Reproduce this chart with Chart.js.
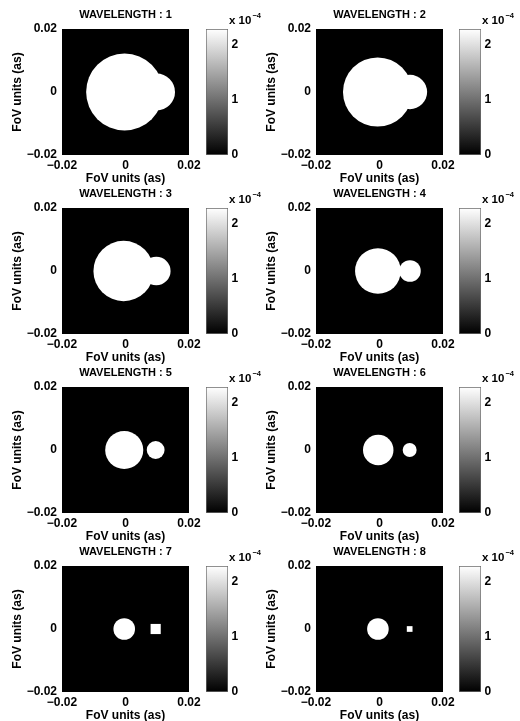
<!DOCTYPE html>
<html>
<head>
<meta charset="utf-8">
<script src="https://cdn.jsdelivr.net/npm/chart.js@4.4.1/dist/chart.umd.min.js"></script>
<style>
  html, body { margin: 0; padding: 0; background: #fff; }
  #fig { position: relative; width: 520px; height: 721px; overflow: hidden; }
  #fig canvas { position: absolute; }
</style>
</head>
<body>
<div id="fig"></div>
<script>
// Two uniform disks imaged at 8 wavelengths
// FoV in arcsec, intensity in units of 1e-4

const wavelengths = [1, 2, 3, 4, 5, 6, 7, 8];
const fovTicks = [-0.02, 0, 0.02];

// primary (large) disk
const primaryX = [-0.0003, -0.0006, -0.0006, -0.0005, -0.0004, -0.0004, -0.0004, -0.0005];
const primaryY = [0, 0, 0, 0, 0, 0, 0, 0];
const primaryRadius = [0.0121, 0.0109, 0.0095, 0.0072, 0.0060, 0.0048, 0.0034, 0.0034];

// companion (small) disk
const companionX = [0.0098, 0.0096, 0.0097, 0.0096, 0.0095, 0.0095, 0.0095, 0.0095];
const companionY = [0, 0, 0, 0, 0, 0, 0, 0];
const companionRadius = [0.0058, 0.0054, 0.0045, 0.0034, 0.0028, 0.0022, 0.0016, 0.0009];

// colour bar (x 1e-4)
const colorbarMax = 2.29;
const colorbarTicks = [0, 1, 2];

// page layout
const colLeft = [62, 316];
const cbLeft = [206, 459];
const rowTop = [29, 208, 387, 566];
const AXIS_W = 127, AXIS_H = 126, CB_W = 22;
const X_AXIS_H = 31;

const FONT = "'Liberation Sans', Arial, Helvetica, sans-serif";
Chart.defaults.font.family = FONT;
Chart.defaults.font.weight = 'bold';
Chart.defaults.font.size = 12;
Chart.defaults.color = '#000';

const fig = document.getElementById('fig');

function makeCanvas(left, top, w, h) {
    const c = document.createElement('canvas');
    c.width = w;
    c.height = h;
    c.style.left = left + 'px';
    c.style.top = top + 'px';
    c.style.width = w + 'px';
    c.style.height = h + 'px';
    fig.appendChild(c);
    return c;
}

function fmtTick(v) {
    return String(v).replace('-', '\u2212');
}

// radius in pixels from a radius in data units
function pxRadius(chart, r) {
    const s = chart.scales.x;
    return Math.abs(s.getPixelForValue(r) - s.getPixelForValue(0));
}

const imageBackground = {
    id: 'imageBackground',
    beforeDatasetsDraw(chart) {
        const { ctx, chartArea: a } = chart;
        ctx.save();
        ctx.fillStyle = '#000';
        ctx.fillRect(a.left, a.top, a.width, a.height);
        ctx.restore();
    }
};

const exponentLabel = {
    id: 'exponentLabel',
    afterDraw(chart) {
        const { ctx, chartArea: a } = chart;
        ctx.save();
        ctx.fillStyle = '#000';
        ctx.textBaseline = 'alphabetic';
        ctx.font = 'bold 11.5px ' + FONT;
        const x0 = a.right + 1;
        ctx.fillText('x 10', x0, a.top - 5);
        const w = ctx.measureText('x 10').width;
        ctx.font = 'bold 7.5px ' + FONT;
        ctx.fillText('\u22124', x0 + w + 1, a.top - 11);
        ctx.restore();
    }
};

function renderImage(i) {
    const col = i % 2, row = Math.floor(i / 2);
    const canvas = makeCanvas(colLeft[col] - 62, rowTop[row] - 29, 62 + AXIS_W + 15, 29 + AXIS_H + X_AXIS_H);

    const points = [
        { x: primaryX[i], y: primaryY[i], rad: primaryRadius[i] },
        { x: companionX[i], y: companionY[i], rad: companionRadius[i] }
    ];

    new Chart(canvas.getContext('2d'), {
        type: 'scatter',
        data: {
            datasets: [{
                data: points,
                pointBackgroundColor: '#fff',
                pointBorderWidth: 0,
                pointBorderColor: '#fff',
                // tiny disks come out as square pixel blocks
                pointStyle: ctx => (ctx.raw && ctx.raw.rad < 0.002 ? 'rect' : 'circle'),
                pointRadius: ctx => {
                    if (!ctx.raw) return 0;
                    const r = pxRadius(ctx.chart, ctx.raw.rad);
                    return ctx.raw.rad < 0.002 ? r / Math.SQRT1_2 : r;
                }
            }]
        },
        options: {
            responsive: false,
            animation: false,
            devicePixelRatio: 1,
            events: [],
            layout: { padding: { top: 0, right: 15, bottom: 0, left: 0 } },
            plugins: {
                legend: { display: false },
                tooltip: { enabled: false },
                title: {
                    display: true,
                    text: 'WAVELENGTH : ' + wavelengths[i],
                    fullSize: false,
                    font: { size: 11, weight: 'bold' },
                    padding: { top: 7.9, bottom: 7.9 }
                }
            },
            scales: {
                x: {
                    type: 'linear',
                    min: fovTicks[0],
                    max: fovTicks[fovTicks.length - 1],
                    afterBuildTicks: s => { s.ticks = fovTicks.map(v => ({ value: v })); },
                    afterFit: s => { s.height = X_AXIS_H; },
                    grid: { display: false, drawTicks: false },
                    border: { display: false },
                    ticks: { padding: 3.3, maxRotation: 0, autoSkip: false, callback: fmtTick },
                    title: { display: true, text: 'FoV units (as)', padding: { top: 0, bottom: 0 } }
                },
                y: {
                    type: 'linear',
                    min: fovTicks[0],
                    max: fovTicks[fovTicks.length - 1],
                    afterBuildTicks: s => { s.ticks = fovTicks.map(v => ({ value: v })); },
                    afterFit: s => { s.width = 62; },
                    grid: { display: false, drawTicks: false },
                    border: { display: false },
                    ticks: { padding: 5, autoSkip: false, callback: fmtTick },
                    title: { display: true, text: 'FoV units (as)', padding: { top: 10.8, bottom: 0 } }
                }
            }
        },
        plugins: [imageBackground]
    });
}

function renderColorbar(i) {
    const col = i % 2, row = Math.floor(i / 2);
    const canvas = makeCanvas(cbLeft[col], rowTop[row] - 29, CB_W + 40, 29 + AXIS_H + X_AXIS_H);

    new Chart(canvas.getContext('2d'), {
        type: 'bar',
        data: {
            labels: [''],
            datasets: [{
                data: [colorbarMax],
                backgroundColor: ctx => {
                    const a = ctx.chart.chartArea;
                    if (!a) return '#000';
                    const g = ctx.chart.ctx.createLinearGradient(0, a.bottom, 0, a.top);
                    g.addColorStop(0, '#000');
                    g.addColorStop(1, '#fff');
                    return g;
                },
                borderColor: '#6b6b6b',
                borderWidth: 1,
                borderSkipped: false,
                barPercentage: 1,
                categoryPercentage: 1
            }]
        },
        options: {
            responsive: false,
            animation: false,
            devicePixelRatio: 1,
            events: [],
            layout: { padding: { top: 29, right: 0, bottom: X_AXIS_H, left: 0 } },
            plugins: {
                legend: { display: false },
                tooltip: { enabled: false }
            },
            scales: {
                x: { display: false },
                y: {
                    position: 'right',
                    min: 0,
                    max: colorbarMax,
                    afterBuildTicks: s => { s.ticks = colorbarTicks.map(v => ({ value: v })); },
                    afterFit: s => { s.width = 40; },
                    grid: { display: false, drawTicks: false },
                    border: { display: false },
                    ticks: { padding: 3.5, autoSkip: false }
                }
            }
        },
        plugins: [exponentLabel]
    });
}

wavelengths.forEach((w, i) => {
    renderImage(i);
    renderColorbar(i);
});
</script>
</body>
</html>
